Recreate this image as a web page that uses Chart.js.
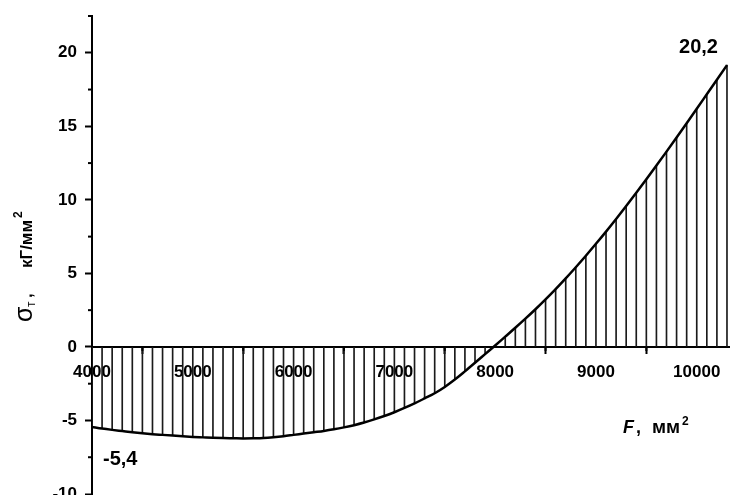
<!DOCTYPE html>
<html>
<head>
<meta charset="utf-8">
<script src="https://cdn.jsdelivr.net/npm/chart.js@4.4.0/dist/chart.umd.min.js"></script>
<style>
  html, body { margin: 0; padding: 0; background: #fff; }
  #wrap { width: 730px; height: 495px; }
</style>
</head>
<body>
<div id="wrap"><canvas id="sigmaChart" width="730" height="495"></canvas></div>
<script>
// F, mm^2 - hatch positions and curve points
var areaF = [4000, 4100, 4200, 4300, 4400, 4500, 4600, 4700, 4800, 4900,
             5000, 5100, 5200, 5300, 5400, 5500, 5600, 5700, 5800, 5900,
             6000, 6100, 6200, 6300, 6400, 6500, 6600, 6700, 6800, 6900,
             7000, 7100, 7200, 7300, 7400, 7500, 7600, 7700, 7800, 7900,
             8000, 8100, 8200, 8300, 8400, 8500, 8600, 8700, 8800, 8900,
             9000, 9100, 9200, 9300, 9400, 9500, 9600, 9700, 9800, 9900,
             10000, 10100, 10200, 10300];
// sigma_T, kG/mm^2
var sigmaT = [-5.44, -5.55, -5.64, -5.72, -5.80, -5.87, -5.93, -5.98, -6.03, -6.08,
              -6.12, -6.15, -6.18, -6.20, -6.21, -6.22, -6.21, -6.19, -6.14, -6.07,
              -5.98, -5.89, -5.80, -5.71, -5.60, -5.47, -5.32, -5.14, -4.93, -4.70,
              -4.44, -4.15, -3.84, -3.50, -3.15, -2.72, -2.22, -1.66, -1.08, -0.49,
              0.10, 0.70, 1.30, 1.92, 2.56, 3.23, 3.93, 4.66, 5.42, 6.20,
              7.01, 7.84, 8.70, 9.58, 10.48, 11.40, 12.33, 13.28, 14.24, 15.21,
              16.19, 17.18, 18.17, 19.16];
var xTicks = [4000, 5000, 6000, 7000, 8000, 9000, 10000];
var xMinor = [4500, 5500, 6500, 7500, 8500, 9500];
var yTicks = [-10, -5, 0, 5, 10, 15, 20];
var yMinor = [-7.5, -2.5, 2.5, 7.5, 12.5, 17.5, 22.5];
// callouts at the ends of the curve
var endLabels = ['-5,4', '20,2'];

var FONT = '"Liberation Sans", Arial, sans-serif';

var points = areaF.map(function(f, i) { return {x: f, y: sigmaT[i]}; });

// minor ticks, axis titles and end values
var extras = {
  id: 'extras',
  afterDraw: function(chart) {
    var c = chart.ctx;
    var sx = chart.scales.x, sy = chart.scales.y;
    var y0 = sy.getPixelForValue(0);
    var left = chart.chartArea.left;
    c.save();
    c.strokeStyle = '#000';
    c.lineWidth = 2;
    xMinor.forEach(function(v) {
      var px = sx.getPixelForValue(v);
      c.beginPath(); c.moveTo(px, y0); c.lineTo(px, y0 + 4); c.stroke();
    });
    yMinor.forEach(function(v) {
      var py = sy.getPixelForValue(v);
      c.beginPath(); c.moveTo(left, py); c.lineTo(left - 4, py); c.stroke();
    });

    c.fillStyle = '#000';
    c.textBaseline = 'alphabetic';

    // end values
    c.font = 'bold 20px ' + FONT;
    var first = points[0], last = points[points.length - 1];
    c.textAlign = 'left';
    c.fillText(endLabels[0], sx.getPixelForValue(first.x) + 11, sy.getPixelForValue(first.y) + 38);
    c.textAlign = 'right';
    c.fillText(endLabels[1], sx.getPixelForValue(last.x) - 9, sy.getPixelForValue(last.y) - 12);

    // x title
    c.textAlign = 'left';
    c.font = 'italic bold 18px ' + FONT;
    c.fillText('F', 623, 433);
    c.font = 'bold 18px ' + FONT;
    c.fillText(',', 636, 433);
    c.font = 'bold 19px ' + FONT;
    c.fillText('мм', 652, 433);
    c.font = 'bold 12px ' + FONT;
    c.fillText('2', 682, 425);

    // y title (rotated, read bottom to top)
    c.save();
    c.translate(32, 322);
    c.rotate(-Math.PI / 2);
    c.font = '25px ' + FONT;
    c.fillText('σ', 0, 0);
    c.font = '12px ' + FONT;
    c.fillText('т', 15, 3);
    c.font = 'bold 17px ' + FONT;
    c.fillText(',', 24, 0);
    c.fillText('кГ/мм', 54, 0);
    c.font = 'bold 12px ' + FONT;
    c.fillText('2', 104, -10);
    c.restore();

    c.restore();
  }
};

var ctx = document.getElementById('sigmaChart');
var myChart = new Chart(ctx, {
  type: 'line',
  data: {
    datasets: [{
      type: 'line',
      data: points,
      borderColor: '#000',
      borderWidth: 2.5,
      pointRadius: 0,
      cubicInterpolationMode: 'monotone',
      order: 0
    }, {
      type: 'bar',
      data: points,
      backgroundColor: '#1a1a1a',
      barThickness: 1,
      order: 1
    }]
  },
  options: {
    responsive: false,
    animation: false,
    layout: { padding: { top: 16, bottom: 1, left: 0, right: 0 } },
    plugins: {
      legend: { display: false },
      tooltip: { enabled: false }
    },
    scales: {
      x: {
        type: 'linear',
        position: { y: 0 },
        min: 4000,
        max: 10330,
        offset: false,
        z: 1,
        border: { color: '#000', width: 2 },
        grid: { drawOnChartArea: false, tickLength: 6, tickWidth: 2, tickColor: '#000' },
        afterBuildTicks: function(scale) {
          scale.ticks = xTicks.map(function(v) { return {value: v}; });
        },
        afterFit: function(scale) {
          scale.paddingLeft = 0; scale.paddingRight = 0;
        },
        ticks: {
          autoSkip: false,
          maxRotation: 0,
          padding: 9,
          color: '#000',
          font: { family: FONT, size: 17, weight: 'bold' },
          callback: function(v) { return String(v); }
        }
      },
      y: {
        type: 'linear',
        min: -10,
        max: 22.5,
        border: { color: '#000', width: 2 },
        grid: { drawOnChartArea: false, tickLength: 7, tickWidth: 2, tickColor: '#000' },
        afterBuildTicks: function(scale) {
          scale.ticks = yTicks.map(function(v) { return {value: v}; });
        },
        afterFit: function(scale) {
          scale.width = 92;
          scale.paddingTop = 0; scale.paddingBottom = 0;
        },
        ticks: {
          padding: 8,
          color: '#000',
          font: { family: FONT, size: 17, weight: 'bold' },
          callback: function(v) { return String(v); }
        }
      }
    }
  },
  plugins: [extras]
});
</script>
</body>
</html>
